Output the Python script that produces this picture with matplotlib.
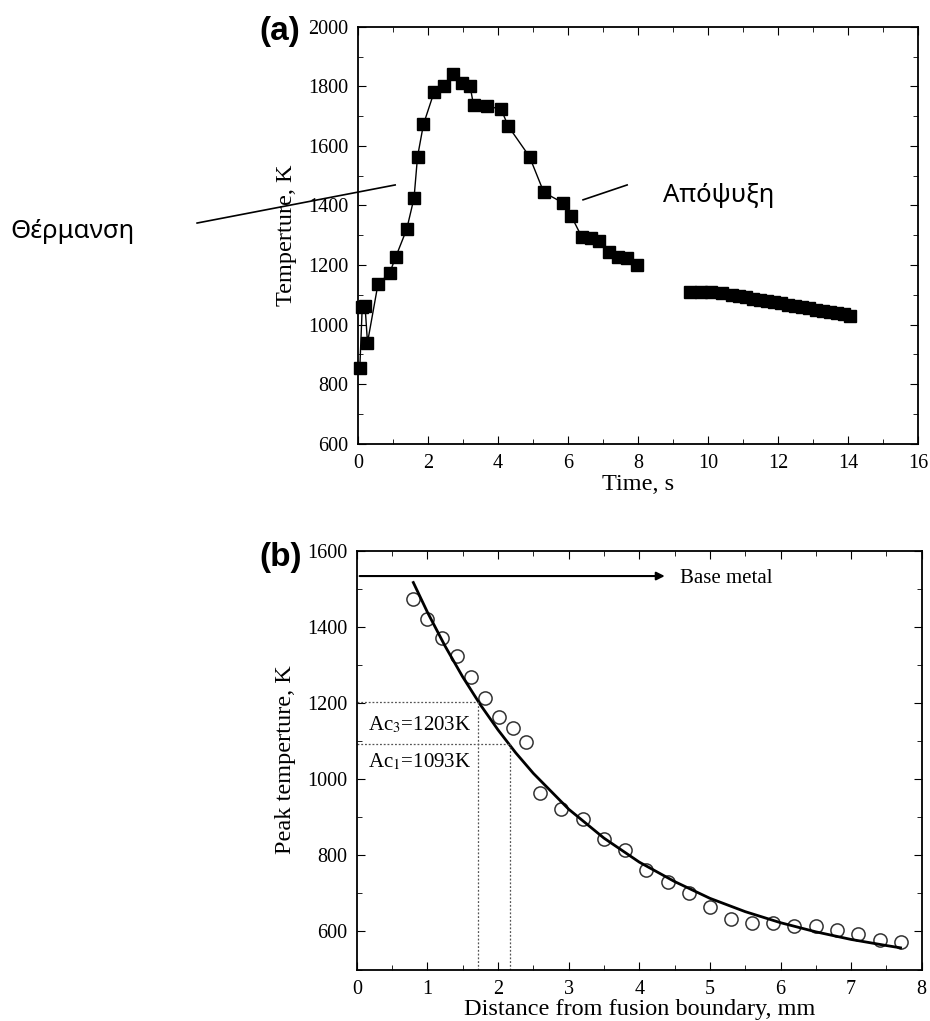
import matplotlib
matplotlib.use('Agg')
import matplotlib.pyplot as plt
import numpy as np
from matplotlib.ticker import MultipleLocator

# ── Data: panel (a) thermal cycle ──
time_heat = [0.05, 0.12, 0.2, 0.27, 0.57, 0.9, 1.08, 1.39, 1.6, 1.7, 1.87, 2.17, 2.47, 2.7,
             2.96, 3.2, 3.3, 3.68, 4.09, 4.29, 4.9, 5.31, 5.87, 6.1, 6.39, 6.67, 6.9,
             7.18, 7.44, 7.68, 7.96]
temp_heat = [853, 1060, 1062, 939, 1136, 1172, 1228, 1320, 1425, 1564, 1673, 1780, 1800, 1842,
             1813, 1802, 1738, 1735, 1723, 1667, 1564, 1444, 1408, 1363, 1295, 1290, 1279,
             1242, 1228, 1223, 1200]
time_tail = [9.5, 9.8, 10.1, 10.4, 10.7, 10.9, 11.1, 11.3, 11.5, 11.7, 11.9, 12.1, 12.3,
             12.5, 12.7, 12.9, 13.1, 13.3, 13.5, 13.7, 13.9, 14.05]
temp_tail = [1110, 1109, 1108, 1105, 1100, 1096, 1091, 1087, 1083, 1079, 1075, 1072, 1066,
             1062, 1058, 1054, 1050, 1046, 1042, 1038, 1034, 1030]

# ── Data: panel (b) peak temperature ──
dist_meas = [0.8, 1.0, 1.21, 1.42, 1.61, 1.82, 2.01, 2.21, 2.4, 2.6, 2.89, 3.2, 3.5, 3.8,
             4.1, 4.4, 4.7, 5.0, 5.3, 5.6, 5.9, 6.19, 6.5, 6.8, 7.1, 7.41, 7.7]
peak_meas = [1472, 1419, 1370, 1324, 1267, 1214, 1164, 1135, 1098, 963, 921, 894, 842, 814,
             761, 731, 702, 663, 632, 623, 622, 615, 613, 604, 593, 578, 573]
dist_fit = [0.8, 1.0, 1.25, 1.5, 1.75, 2.0, 2.25, 2.5, 3.0, 3.5, 4.0, 4.5, 5.0, 5.5, 6.0,
            6.5, 7.0, 7.5, 7.7]
peak_fit = [1516, 1438, 1349, 1268, 1195, 1129, 1069, 1015, 921, 845, 782, 731, 687, 652,
            623, 599, 579, 563, 557]

AC3, AC3_D = 1203, 1.72
AC1, AC1_D = 1093, 2.17

plt.rcParams.update({
    'font.family': ['Liberation Serif', 'DejaVu Serif'],
    'mathtext.fontset': 'stix',
    'font.size': 14.5,
    'xtick.direction': 'in',
    'ytick.direction': 'in',
    'xtick.top': True,
    'ytick.right': True,
    'xtick.major.size': 6,
    'ytick.major.size': 6,
    'xtick.minor.size': 3.5,
    'ytick.minor.size': 3.5,
    'xtick.major.pad': 7.5,
    'ytick.major.pad': 7,
    'axes.linewidth': 1.3,
})

fig = plt.figure(figsize=(9.3, 10.21), dpi=100)
ax1 = fig.add_axes([0.385, 0.5656, 0.602, 0.408])
ax2 = fig.add_axes([0.3837, 0.0504, 0.6074, 0.4104])

# ── Panel (a) ──
ax1.plot(time_heat, temp_heat, '-s', color='black', lw=1.0, ms=8.5, clip_on=False)
ax1.plot(time_tail, temp_tail, '-s', color='black', lw=1.0, ms=8.5)
ax1.set_xlim(0, 16)
ax1.set_ylim(600, 2000)
ax1.xaxis.set_major_locator(MultipleLocator(2))
ax1.xaxis.set_minor_locator(MultipleLocator(1))
ax1.yaxis.set_major_locator(MultipleLocator(200))
ax1.yaxis.set_minor_locator(MultipleLocator(100))
ax1.set_xlabel('Time, s', fontsize=17.5, labelpad=1)
ax1.set_ylabel('Temperture, K', fontsize=17.5, labelpad=8)

greek = ['Noto Sans', 'DejaVu Sans']
ax1.plot([-4.6, 1.06], [1341, 1469], color='black', lw=1.2, clip_on=False)
ax1.text(-8.17, 1311, 'Θέρμανση', family=greek, fontsize=18.5, ha='center', va='center')
ax1.plot([6.43, 7.69], [1419, 1469], color='black', lw=1.2, clip_on=False)
ax1.text(10.3, 1435, 'Απόψυξη', family=greek, fontsize=18.5, ha='center', va='center')

# ── Panel (b) ──
ax2.plot(dist_meas, peak_meas, 'o', mfc='none', mec='#333333', mew=1.1, ms=9.5)
ax2.plot(dist_fit, peak_fit, '-', color='black', lw=2.0)
dot = dict(color='#555555', lw=0.9, ls=(0, (1.5, 1.5)))
ax2.plot([0, AC3_D], [AC3, AC3], **dot)
ax2.plot([AC3_D, AC3_D], [500, AC3], **dot)
ax2.plot([0, AC1_D], [AC1, AC1], **dot)
ax2.plot([AC1_D, AC1_D], [500, AC1], **dot)
ax2.text(0.16, 1142, 'Ac$_3$=1203K', fontsize=15, va='center')
ax2.text(0.16, 1046, 'Ac$_1$=1093K', fontsize=15, va='center')
ax2.annotate('', xy=(4.4, 1533), xytext=(0, 1533),
             arrowprops=dict(arrowstyle='-|>', color='black', lw=1.5, mutation_scale=12))
ax2.text(4.58, 1526, 'Base metal', fontsize=15, va='center')

ax2.set_xlim(0, 8)
ax2.set_ylim(500, 1600)
ax2.xaxis.set_major_locator(MultipleLocator(1))
ax2.xaxis.set_minor_locator(MultipleLocator(0.5))
ax2.yaxis.set_major_locator(MultipleLocator(200))
ax2.yaxis.set_minor_locator(MultipleLocator(100))
ax2.set_xlabel('Distance from fusion boundary, mm', fontsize=17.5, labelpad=0)
ax2.set_ylabel('Peak temperture, K', fontsize=17.5, labelpad=8)

fig.text(0.279, 0.969, '(a)', family=['Liberation Sans'], fontsize=24, fontweight='bold',
         ha='left', va='center')
fig.text(0.279, 0.4535, '(b)', family=['Liberation Sans'], fontsize=24, fontweight='bold',
         ha='left', va='center')

plt.savefig('out.png', dpi=100)
plt.close()
